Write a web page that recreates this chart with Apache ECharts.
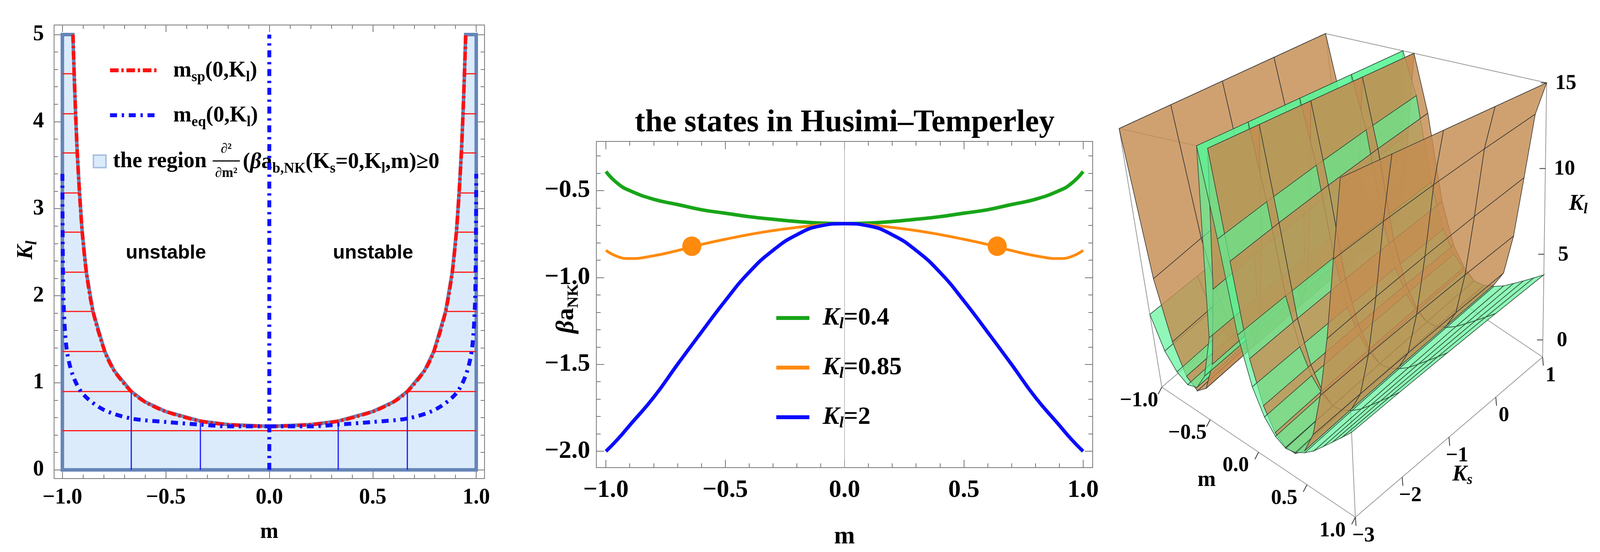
<!DOCTYPE html>
<html><head><meta charset="utf-8">
<script src="https://cdn.jsdelivr.net/npm/echarts@6/dist/echarts.min.js"></script>
<style>html,body{margin:0;padding:0;background:#fff;overflow:hidden}#c{width:100vw;height:1413px}</style>
</head><body><div id="c"></div>
<script>
// ---------- Panel 1 data ----------
const spM = [0,0.2,0.333,0.5,0.6,0.667,0.75,0.795,0.852,0.884,0.904,0.917,0.928,0.936,0.943,0.949];
const spK = [0.5,0.52,0.56,0.67,0.78,0.9,1.14,1.36,1.82,2.27,2.73,3.18,3.64,4.09,4.55,5.0];
const eqM = [0,0.2,0.333,0.5,0.667,0.8,0.9,0.95,0.98,0.995,1.0];
const eqK = [0.5,0.5,0.52,0.55,0.59,0.69,0.87,1.09,1.4,2.0,3.4];
const meshLevels = [0.45,0.9,1.36,1.82,2.27,2.73,3.18,3.64,4.09,4.55];
const meshEnds   = [0,0.667,0.795,0.852,0.884,0.904,0.917,0.928,0.936,0.943];
const vMeshM = [-0.667,-0.333,0.333,0.667];
const vMeshK = [0.9,0.56,0.56,0.9];
const p1XTicks = [-1,-0.5,0,0.5,1];
const p1YTicks = [0,1,2,3,4,5];
const p1XMinor = [-0.9,-0.8,-0.7,-0.6,-0.4,-0.3,-0.2,-0.1,0.1,0.2,0.3,0.4,0.6,0.7,0.8,0.9];
const p1YMinor = [0.2,0.4,0.6,0.8,1.2,1.4,1.6,1.8,2.2,2.4,2.6,2.8,3.2,3.4,3.6,3.8,4.2,4.4,4.6,4.8];
// ---------- Panel 2 data ----------
const p2M = [-1,-0.95,-0.9,-0.8,-0.7,-0.6,-0.5,-0.4,-0.3,-0.2,-0.1,0,0.1,0.2,0.3,0.4,0.5,0.6,0.7,0.8,0.9,0.95,1];
const green04 = [-0.39,-0.46,-0.5,-0.55,-0.58,-0.61,-0.63,-0.65,-0.665,-0.678,-0.687,-0.69,-0.687,-0.678,-0.665,-0.65,-0.63,-0.61,-0.58,-0.55,-0.5,-0.46,-0.39];
const orange085 = [-0.844,-0.88,-0.891,-0.875,-0.845,-0.81,-0.78,-0.753,-0.73,-0.712,-0.697,-0.69,-0.697,-0.712,-0.73,-0.753,-0.78,-0.81,-0.845,-0.875,-0.891,-0.88,-0.844];
const blue2 = [-2.0,-1.93,-1.85,-1.69,-1.5,-1.315,-1.134,-0.97,-0.844,-0.754,-0.703,-0.69,-0.703,-0.754,-0.844,-0.97,-1.134,-1.315,-1.5,-1.69,-1.85,-1.93,-2.0];
const dotsM = [-0.64,0.64];
const dotsV = [-0.82,-0.82];
const p2XTicks = [-1,-0.5,0,0.5,1];
const p2YTicks = [-2,-1.5,-1,-0.5];
const p2XMinor = [-0.9,-0.8,-0.7,-0.6,-0.4,-0.3,-0.2,-0.1,0.1,0.2,0.3,0.4,0.6,0.7,0.8,0.9];
const p2YMinor = [-1.9,-1.8,-1.7,-1.6,-1.4,-1.3,-1.2,-1.1,-0.9,-0.8,-0.7,-0.6,-0.4,-0.3];
// ---------- Panel 3 data ----------
const m3 = [-1,-0.9,-0.8,-0.7,-0.6,-0.5,-0.4,-0.3,-0.2,-0.1,0,0.1,0.2,0.3,0.4,0.5,0.6,0.7,0.8,0.9,1];
const ks3 = [-3,-2,-1,0,1];
const orangeKl = [
 [15,6,2.5,0.8,0.3,0.8,2.5,7,15,9,4,1.8,0.7,0.25,0.25,0.7,1.8,4,7,11,15],
 [15,6.5,2.8,1.0,0.5,1.0,2.8,7.5,15,9.5,4.3,2.0,0.9,0.4,0.4,0.9,2.0,4.3,7.5,11.5,15],
 [15,7,3.1,1.2,0.7,1.2,3.1,8,15,10,4.6,2.2,1.1,0.6,0.6,1.1,2.2,4.6,8,12,15],
 [15,7.5,3.4,1.4,0.9,1.4,3.4,8.5,15,10.5,4.9,2.4,1.3,0.8,0.8,1.3,2.4,4.9,8.5,12.5,15],
 [15,8,3.7,1.6,1.1,1.6,3.7,9,15,11,5.2,2.6,1.5,1.0,1.0,1.5,2.6,5.2,9,13,15]
];
const greenKl = [
 [3.5,1.6,0.7,0.3,0.5,1.5,4,15,10,5,2.5,1.2,0.5,0.2,0.3,0.6,1,1.5,2,2.5,3],
 [3.7,1.8,0.9,0.5,0.7,1.7,4.3,15,10.5,5.3,2.7,1.4,0.7,0.4,0.5,0.8,1.2,1.7,2.2,2.7,3.2],
 [3.9,2.0,1.1,0.7,0.9,1.9,4.6,15,11,5.6,2.9,1.6,0.9,0.6,0.7,1.0,1.4,1.9,2.4,2.9,3.4],
 [4.1,2.2,1.3,0.9,1.1,2.1,4.9,15,11.5,5.9,3.1,1.8,1.1,0.8,0.9,1.2,1.6,2.1,2.6,3.1,3.6],
 [4.3,2.4,1.5,1.1,1.3,2.3,5.2,15,12,6.2,3.3,2.0,1.3,1.0,1.1,1.4,1.8,2.3,2.8,3.3,3.8]
];
const m3Ticks = [-1,-0.5,0,0.5,1];
const ks3Ticks = [-3,-2,-1,0,1];
const kl3Ticks = [0,5,10,15];

// ---------- helpers ----------
const el = document.getElementById('c');
const W = el.clientWidth || window.innerWidth;
const SX = W/4349;
const X = v => v*SX;
const F = v => Math.round(v*(0.5+0.5*SX));
const SERIF = 'Liberation Serif';
const fmt = v => (v<0?'\u2212':'') + Math.abs(v).toFixed(1);
const chart = echarts.init(el, null, {renderer:'canvas'});

const Z0=-1, Z1=15;
const BOT = {A:[3158,991],B:[3684,1324],C:[4193,914],D:[3667,581]};
const TOP = {A:[3042,329],B:[3643,455],C:[4204,212],D:[3603,86]};
function bil(P,u,v){
  const x=(1-u)*(1-v)*P.A[0]+u*(1-v)*P.B[0]+u*v*P.C[0]+(1-u)*v*P.D[0];
  const y=(1-u)*(1-v)*P.A[1]+u*(1-v)*P.B[1]+u*v*P.C[1]+(1-u)*v*P.D[1];
  return [x,y];
}
function proj(m,ks,kl){
  const u=(m+1)/2, v=(ks+3)/4, w=(kl-Z0)/(Z1-Z0);
  const b=bil(BOT,u,v), t=bil(TOP,u,v);
  return [b[0]*(1-w)+t[0]*w, b[1]*(1-w)+t[1]*w];
}
const quads=[];
function addSurf(tab, fill, stroke){
  for(let j=0;j<ks3.length-1;j++) for(let i=0;i<m3.length-1;i++){
    const pts=[[m3[i],ks3[j],tab[j][i]],[m3[i+1],ks3[j],tab[j][i+1]],[m3[i+1],ks3[j+1],tab[j+1][i+1]],[m3[i],ks3[j+1],tab[j+1][i]]];
    const mc=(m3[i]+m3[i+1])/2, kc=(ks3[j]+ks3[j+1])/2;
    quads.push({pts,fill,stroke,depth:(1-mc)*0.5+(kc+3)*0.3});
  }
}
addSurf(orangeKl,'rgba(196,140,80,0.82)','#3a3a3a');
addSurf(greenKl,'rgba(90,245,150,0.68)','#2f4f3a');
quads.sort((a,b)=>b.depth-a.depth);

const boxLines=[];
[['A','B'],['B','C'],['C','D'],['D','A']].forEach(e=>{boxLines.push([BOT[e[0]],BOT[e[1]]]);boxLines.push([TOP[e[0]],TOP[e[1]]]);});
['A','B','C','D'].forEach(k=>boxLines.push([BOT[k],TOP[k]]));

const regionPts=[[-1,0],[-1,5],[-spM[spM.length-1],5]];
for(let i=spM.length-1;i>=0;i--) regionPts.push([-spM[i],spK[i]]);
for(let i=1;i<spM.length;i++) regionPts.push([spM[i],spK[i]]);
regionPts.push([spM[spM.length-1],5],[1,5],[1,0]);
const spCurve=[]; for(let i=spM.length-1;i>=0;i--) spCurve.push([-spM[i],spK[i]]); for(let i=1;i<spM.length;i++) spCurve.push([spM[i],spK[i]]);
const eqLeft=[]; for(let i=eqM.length-1;i>=0;i--) eqLeft.push([-eqM[i],eqK[i]]);
const eqRight=eqM.map((m,i)=>[m,eqK[i]]);

const tickLab1 = {fontFamily:SERIF,fontWeight:'bold',fontSize:F(58),color:'#000'};
const tickLab2 = {fontFamily:SERIF,fontWeight:'bold',fontSize:F(66),color:'#000'};
const rich1 = {b:{fontFamily:SERIF,fontWeight:'bold',fontSize:F(58)},i:{fontFamily:SERIF,fontWeight:'bold',fontStyle:'italic',fontSize:F(58)},s:{fontFamily:SERIF,fontWeight:'bold',fontSize:F(38),padding:[32,0,0,0]}};
const DASH_SP=[22,7,6,7], DASH_EQ=[18,12,6,12];

function tickAxis(kind,grid,pos,min,max,vals,len){
  return {gridIndex:grid,type:'value',position:pos,min,max,axisLine:{show:false,onZero:false},splitLine:{show:false},
    axisLabel:{show:false},axisTick:{inside:true,length:len,lineStyle:{color:'#777',width:2},customValues:vals}};
}

const option = {
  animation:false,
  backgroundColor:'#fff',
  grid:[
    {left:X(147),top:64,width:X(1170),height:1161,show:true,borderColor:'#777',borderWidth:2},
    {left:X(1621),top:362,width:X(1349),height:835,show:true,borderColor:'#777',borderWidth:2},
    {left:0,top:0,width:W,height:1413,show:false}
  ],
  xAxis:[
    {gridIndex:0,type:'value',position:'bottom',min:-1.04,max:1.04,axisLine:{show:false,onZero:false},splitLine:{show:false},
     axisTick:{inside:true,length:18,lineStyle:{color:'#777',width:2},customValues:p1XTicks},
     axisLabel:Object.assign({customValues:p1XTicks,formatter:fmt,margin:22},tickLab1),
     name:'m',nameLocation:'middle',nameGap:110,nameTextStyle:{fontFamily:SERIF,fontWeight:'bold',fontSize:F(58),color:'#000'}},
    {gridIndex:1,type:'value',position:'bottom',min:-1.04,max:1.04,axisLine:{show:false,onZero:false},splitLine:{show:false},
     axisTick:{inside:true,length:20,lineStyle:{color:'#777',width:2},customValues:p2XTicks},
     axisLabel:Object.assign({customValues:p2XTicks,formatter:fmt,margin:26},tickLab2),
     name:'m',nameLocation:'middle',nameGap:145,nameTextStyle:{fontFamily:SERIF,fontWeight:'bold',fontSize:F(66),color:'#000'}},
    {gridIndex:2,type:'value',min:0,max:4349,show:false},
    tickAxis('x',0,'bottom',-1.04,1.04,p1XMinor,10),
    tickAxis('x',0,'top',-1.04,1.04,p1XTicks,18),
    tickAxis('x',0,'top',-1.04,1.04,p1XMinor,10),
    tickAxis('x',1,'bottom',-1.04,1.04,p2XMinor,11),
    tickAxis('x',1,'top',-1.04,1.04,p2XTicks,20),
    tickAxis('x',1,'top',-1.04,1.04,p2XMinor,11)
  ],
  yAxis:[
    {gridIndex:0,type:'value',position:'left',min:-0.1,max:5.11,axisLine:{show:false,onZero:false},splitLine:{show:false},
     axisTick:{inside:true,length:18,lineStyle:{color:'#777',width:2},customValues:p1YTicks},
     axisLabel:Object.assign({customValues:p1YTicks,margin:26},tickLab1)},
    {gridIndex:1,type:'value',position:'left',min:-2.094,max:-0.217,axisLine:{show:false,onZero:false},splitLine:{show:false},
     axisTick:{inside:true,length:20,lineStyle:{color:'#777',width:2},customValues:p2YTicks},
     axisLabel:Object.assign({customValues:p2YTicks,formatter:fmt,margin:16},tickLab2)},
    {gridIndex:2,type:'value',min:0,max:1413,inverse:true,show:false},
    tickAxis('y',0,'left',-0.1,5.11,p1YMinor,10),
    tickAxis('y',0,'right',-0.1,5.11,p1YTicks,18),
    tickAxis('y',0,'right',-0.1,5.11,p1YMinor,10),
    tickAxis('y',1,'left',-2.094,-0.217,p2YMinor,11),
    tickAxis('y',1,'right',-2.094,-0.217,p2YTicks,20),
    tickAxis('y',1,'right',-2.094,-0.217,p2YMinor,11)
  ],
  series:[
    {type:'custom',xAxisIndex:0,yAxisIndex:0,data:[[0,0]],z:1,
     renderItem:(p,api)=>({type:'polygon',shape:{points:regionPts.map(q=>api.coord(q))},
       style:{fill:'#dcebfb',stroke:'#6585b8',lineWidth:9}})},
    {type:'custom',xAxisIndex:0,yAxisIndex:0,z:2,data:meshLevels.map((k,i)=>[k,meshEnds[i]]),
     renderItem:(p,api)=>{const k=api.value(0),e=api.value(1);
       const st={stroke:'#ff1a1a',lineWidth:3};
       const a=api.coord([-1,k]),d=api.coord([1,k]);
       if(e===0) return {type:'line',shape:{x1:a[0],y1:a[1],x2:d[0],y2:d[1]},style:st};
       const b=api.coord([-e,k]),c=api.coord([e,k]);
       return {type:'group',children:[{type:'line',shape:{x1:a[0],y1:a[1],x2:b[0],y2:b[1]},style:st},{type:'line',shape:{x1:c[0],y1:c[1],x2:d[0],y2:d[1]},style:st}]};}},
    {type:'custom',xAxisIndex:0,yAxisIndex:0,z:2,data:vMeshM.map((m,i)=>[m,vMeshK[i]]),
     renderItem:(p,api)=>{const a=api.coord([api.value(0),0]),b=api.coord([api.value(0),api.value(1)]);
       return {type:'line',shape:{x1:a[0],y1:a[1],x2:b[0],y2:b[1]},style:{stroke:'#1a1aff',lineWidth:3}};}},
    {type:'line',xAxisIndex:0,yAxisIndex:0,data:spCurve,showSymbol:false,smooth:0.3,z:3,
     lineStyle:{color:'#ff1010',width:9,type:DASH_SP}},
    {type:'line',xAxisIndex:0,yAxisIndex:0,data:eqLeft,showSymbol:false,smooth:0.3,z:3,
     lineStyle:{color:'#1010ff',width:10,type:DASH_EQ}},
    {type:'line',xAxisIndex:0,yAxisIndex:0,data:eqRight,showSymbol:false,smooth:0.3,z:3,
     lineStyle:{color:'#1010ff',width:10,type:DASH_EQ}},
    {type:'line',xAxisIndex:0,yAxisIndex:0,data:[[0,0],[0,5]],showSymbol:false,z:3,
     lineStyle:{color:'#1010ff',width:10,type:DASH_EQ}},
    {type:'line',xAxisIndex:1,yAxisIndex:1,data:[[0,-2.094],[0,-0.217]],showSymbol:false,z:1,lineStyle:{color:'#aaa',width:1.5}},
    {type:'line',xAxisIndex:1,yAxisIndex:1,data:p2M.map((m,i)=>[m,green04[i]]),showSymbol:false,smooth:true,lineStyle:{color:'#18a518',width:9}},
    {type:'line',xAxisIndex:1,yAxisIndex:1,data:p2M.map((m,i)=>[m,orange085[i]]),showSymbol:false,smooth:true,lineStyle:{color:'#ff8a0d',width:7}},
    {type:'line',xAxisIndex:1,yAxisIndex:1,data:p2M.map((m,i)=>[m,blue2[i]]),showSymbol:false,smooth:true,lineStyle:{color:'#0a0aff',width:9}},
    {type:'scatter',xAxisIndex:1,yAxisIndex:1,data:dotsM.map((m,i)=>[m,dotsV[i]]),symbolSize:[X(52),50],itemStyle:{color:'#ff8a0d',opacity:1},z:5},
    {type:'custom',xAxisIndex:2,yAxisIndex:2,data:boxLines.map((l,i)=>[i]),z:0,
     renderItem:(p,api)=>{const l=boxLines[api.value(0)];const a=api.coord(l[0]),b=api.coord(l[1]);
       return {type:'line',shape:{x1:a[0],y1:a[1],x2:b[0],y2:b[1]},style:{stroke:'#9a9a9a',lineWidth:2}};}},
    {type:'custom',xAxisIndex:2,yAxisIndex:2,data:quads.map((q,i)=>[i]),z:2,
     renderItem:(p,api)=>{const q=quads[api.value(0)];
       return {type:'polygon',shape:{points:q.pts.map(t=>api.coord(proj(t[0],t[1],t[2])))},
         style:{fill:q.fill,stroke:q.stroke,lineWidth:1.6}};}},
    {type:'custom',xAxisIndex:2,yAxisIndex:2,z:3,
     data:[].concat(m3Ticks.map(m=>[0,m]),ks3Ticks.map(k=>[1,k]),kl3Ticks.map(k=>[2,k])),
     renderItem:(p,api)=>{const t=api.value(0),v=api.value(1);let a,b,txt,pos;
       if(t===0){a=proj(v,-3,Z0);b=[a[0]-10,a[1]+18];pos=[a[0]-62,a[1]+35];txt=fmt(v);}
       else if(t===1){a=proj(1,v,Z0);b=[a[0]+2,a[1]+22];pos=[a[0]+22,a[1]+48];txt=(v<0?'\u2212':'')+Math.abs(v);}
       else {a=proj(1,1,v);b=[a[0]-16,a[1]];pos=[a[0]+52,a[1]+2];txt=String(v);}
       const A=api.coord(a),B=api.coord(b),P=api.coord(pos);
       return {type:'group',children:[
         {type:'line',shape:{x1:A[0],y1:A[1],x2:B[0],y2:B[1]},style:{stroke:'#333',lineWidth:2}},
         {type:'text',x:P[0],y:P[1],style:{text:txt,fontFamily:SERIF,fontWeight:'bold',fontSize:F(56),fill:'#000',align:'center',verticalAlign:'middle'}}]};}}
  ],
  graphic:[
    {type:'text',x:X(72),y:640,rotation:Math.PI/2,style:{rich:{i:{fontFamily:SERIF,fontStyle:'italic',fontWeight:'bold',fontSize:F(58)},s:{fontFamily:SERIF,fontStyle:'italic',fontWeight:'bold',fontSize:F(40),padding:[30,0,0,0]}},text:'{i|K}{s|l}',align:'center',verticalAlign:'middle',fill:'#000'}},
    {type:'text',x:X(451),y:648,style:{text:'unstable',fontFamily:'Liberation Sans',fontWeight:'bold',fontSize:F(52),fill:'#000',align:'center',verticalAlign:'middle'}},
    {type:'text',x:X(1014),y:648,style:{text:'unstable',fontFamily:'Liberation Sans',fontWeight:'bold',fontSize:F(52),fill:'#000',align:'center',verticalAlign:'middle'}},
    {type:'text',x:X(451),y:1148,style:{text:'stable',fontFamily:'Liberation Sans',fontWeight:'bold',fontSize:F(52),fill:'#000',align:'center',verticalAlign:'middle'}},
    {type:'text',x:X(1014),y:1148,style:{text:'stable',fontFamily:'Liberation Sans',fontWeight:'bold',fontSize:F(52),fill:'#000',align:'center',verticalAlign:'middle'}},
    {type:'line',shape:{x1:X(299),y1:180,x2:X(429),y2:180},style:{stroke:'#ff1010',lineWidth:10,lineDash:DASH_SP}},
    {type:'line',shape:{x1:X(299),y1:295,x2:X(429),y2:295},style:{stroke:'#1010ff',lineWidth:10,lineDash:DASH_EQ}},
    {type:'rect',shape:{x:X(254),y:397,width:32,height:32},style:{fill:'#dcebfb',stroke:'#a9c2e3',lineWidth:4}},
    {type:'text',x:X(471),y:182,style:{rich:rich1,text:'{b|m}{s|sp}{b|(0,K}{s|l}{b|)}',verticalAlign:'middle',fill:'#000'}},
    {type:'text',x:X(471),y:297,style:{rich:rich1,text:'{b|m}{s|eq}{b|(0,K}{s|l}{b|)}',verticalAlign:'middle',fill:'#000'}},
    {type:'text',x:X(307),y:414,style:{text:'the region',fontFamily:SERIF,fontWeight:'bold',fontSize:F(58),fill:'#000',verticalAlign:'middle'}},
    {type:'text',x:X(615),y:382,style:{text:'\u2202\u00b2',fontFamily:SERIF,fontWeight:'bold',fontSize:F(36),fill:'#000',align:'center',verticalAlign:'middle'}},
    {type:'line',shape:{x1:X(578),y1:412,x2:X(652),y2:412},style:{stroke:'#000',lineWidth:3}},
    {type:'text',x:X(615),y:444,style:{text:'\u2202m\u00b2',fontFamily:SERIF,fontWeight:'bold',fontSize:F(36),fill:'#000',align:'center',verticalAlign:'middle'}},
    {type:'text',x:X(660),y:416,style:{rich:rich1,text:'{b|(}{i|\u03b2}{b|a}{s|b,NK}{b|(K}{s|s}{b|=0,K}{s|l}{b|,m)\u22650}',verticalAlign:'middle',fill:'#000'}},
    {type:'text',x:X(2296),y:315,style:{text:'the states in Husimi\u2013Temperley',fontFamily:SERIF,fontWeight:'bold',fontSize:F(82),fill:'#000',align:'center',verticalAlign:'middle'}},
    {type:'text',x:X(1540),y:790,rotation:Math.PI/2,style:{rich:{i:{fontFamily:SERIF,fontWeight:'bold',fontStyle:'italic',fontSize:F(66)},b:{fontFamily:SERIF,fontWeight:'bold',fontSize:F(66)},s:{fontFamily:SERIF,fontWeight:'bold',fontSize:F(42),padding:[36,0,0,0]}},text:'{i|\u03b2}{b|a}{s|NK}',align:'center',verticalAlign:'middle',fill:'#000'}},
    {type:'line',shape:{x1:X(2110),y1:814,x2:X(2200),y2:814},style:{stroke:'#18a518',lineWidth:10}},
    {type:'line',shape:{x1:X(2110),y1:941,x2:X(2200),y2:941},style:{stroke:'#ff8a0d',lineWidth:10}},
    {type:'line',shape:{x1:X(2110),y1:1068,x2:X(2200),y2:1068},style:{stroke:'#0a0aff',lineWidth:10}},
    ...[['0.4',814],['0.85',941],['2',1068]].map(a=>({type:'text',x:X(2236),y:a[1],style:{rich:{i:{fontFamily:SERIF,fontWeight:'bold',fontStyle:'italic',fontSize:F(66)},s:{fontFamily:SERIF,fontWeight:'bold',fontStyle:'italic',fontSize:F(42),padding:[30,0,0,0]},b:{fontFamily:SERIF,fontWeight:'bold',fontSize:F(66)}},text:'{i|K}{s|l}{b|='+a[0]+'}',verticalAlign:'middle',fill:'#000'}})),
    {type:'text',x:X(3280),y:1230,style:{text:'m',fontFamily:SERIF,fontWeight:'bold',fontSize:F(58),fill:'#000',align:'center',verticalAlign:'middle'}},
    {type:'text',x:X(3975),y:1216,style:{rich:{i:{fontFamily:SERIF,fontWeight:'bold',fontStyle:'italic',fontSize:F(58)},s:{fontFamily:SERIF,fontWeight:'bold',fontStyle:'italic',fontSize:F(38),padding:[26,0,0,0]}},text:'{i|K}{s|s}',align:'center',verticalAlign:'middle',fill:'#000'}},
    {type:'text',x:X(4290),y:523,style:{rich:{i:{fontFamily:SERIF,fontWeight:'bold',fontStyle:'italic',fontSize:F(58)},s:{fontFamily:SERIF,fontWeight:'bold',fontStyle:'italic',fontSize:F(38),padding:[26,0,0,0]}},text:'{i|K}{s|l}',align:'center',verticalAlign:'middle',fill:'#000'}}
  ]
};
chart.setOption(option);
</script></body></html>
